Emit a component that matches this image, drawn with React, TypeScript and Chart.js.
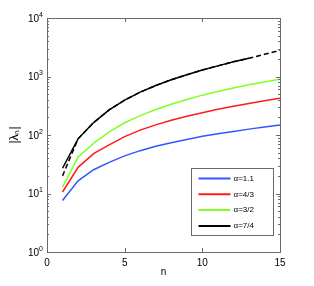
import React, { useEffect, useRef } from "react";
import { Chart, registerables } from "chart.js";

Chart.register(...registerables);

const nValues = [1, 2, 3, 4, 5, 6, 7, 8, 9, 10, 11, 12, 13, 14, 15];
const lambdaAlpha11 = [7.6, 16.5, 25.5, 34, 44, 54, 64, 74, 84, 95, 105, 115, 126, 137, 148];
const lambdaAlpha43 = [10.6, 28, 48, 68, 94, 121, 149, 179, 210, 240, 275, 310, 346, 384, 423];
const lambdaAlpha32 = [12.8, 42, 72, 113, 162, 214, 272, 336, 405, 480, 555, 636, 720, 808, 900];
const lambdaAlpha74 = [27, 86, 163, 268, 395, 540, 700, 880, 1070, 1290, 1520, 1780, 2050, null, null];
const lambdaAlpha74Asym = [20, 86, 163, 268, 395, 540, 700, 880, 1070, 1290, 1520, 1780, 2050, 2400, 2800];
const seriesLabels = ["α=1.1", "α=4/3", "α=3/2", "α=7/4"];
const seriesColors = ["#3355ff", "#ff1a1a", "#80ff26", "#000000"];
const xTickValues = [0, 5, 10, 15];
const yDecades = [1, 10, 100, 1000, 10000];

const FONT = "Liberation Sans, Arial, Helvetica, sans-serif";

const toPoints = (ys: (number | null)[]) =>
  nValues.map((n, i) => ({ x: n, y: ys[i] }));

const framePlugin = {
  id: "matlabFrame",
  afterDatasetsDraw(chart: any) {
    const { ctx, chartArea: a, scales } = chart;
    const xs = scales.x;
    const ys = scales.y;
    ctx.save();
    ctx.strokeStyle = "#6a6a6a";
    ctx.lineWidth = 1;
    ctx.strokeRect(Math.round(a.left) + 0.5, Math.round(a.top) + 0.5, Math.round(a.width), Math.round(a.height));
    ctx.beginPath();
    for (const v of xTickValues) {
      const px = Math.round(xs.getPixelForValue(v)) + 0.5;
      ctx.moveTo(px, a.bottom);
      ctx.lineTo(px, a.bottom - 4);
      ctx.moveTo(px, a.top);
      ctx.lineTo(px, a.top + 4);
    }
    for (let d = 0; d < yDecades.length - 1; d++) {
      for (let m = 1; m < 10; m++) {
        const v = yDecades[d] * m;
        const py = Math.round(ys.getPixelForValue(v)) + 0.5;
        const len = m === 1 ? 4 : 2;
        ctx.moveTo(a.left, py);
        ctx.lineTo(a.left + len, py);
        ctx.moveTo(a.right, py);
        ctx.lineTo(a.right - len, py);
      }
    }
    ctx.stroke();

    // y tick labels 10^k
    ctx.fillStyle = "#000";
    ctx.textBaseline = "alphabetic";
    yDecades.forEach((v, k) => {
      const py = ys.getPixelForValue(v);
      ctx.font = `7px ${FONT}`;
      const ew = ctx.measureText(String(k)).width;
      ctx.font = `10px ${FONT}`;
      const bw = ctx.measureText("10").width;
      const right = a.left - 4;
      ctx.textAlign = "left";
      ctx.fillText("10", right - ew - bw, py + 3.5);
      ctx.font = `7px ${FONT}`;
      ctx.fillText(String(k), right - ew, py - 1.5);
    });

    // legend
    const bx = Math.round(a.right - 89) + 0.5;
    const by = Math.round(a.top + 150) + 0.5;
    const bw = 82;
    const bh = 67;
    ctx.fillStyle = "#fff";
    ctx.fillRect(bx, by, bw, bh);
    ctx.strokeStyle = "#6a6a6a";
    ctx.strokeRect(bx, by, bw, bh);
    ctx.font = `8px ${FONT}`;
    ctx.textAlign = "left";
    ctx.textBaseline = "middle";
    chart.data.datasets.slice(0, 4).forEach((ds: any, i: number) => {
      const yy = by + 10 + i * 15.8;
      ctx.strokeStyle = ds.borderColor;
      ctx.lineWidth = 2;
      ctx.beginPath();
      ctx.moveTo(bx + 7, yy);
      ctx.lineTo(bx + 39, yy);
      ctx.stroke();
      ctx.fillStyle = "#000";
      ctx.fillText(ds.label, bx + 42, yy);
    });
    ctx.restore();
  },
};

export default function App() {
  const canvasRef = useRef<HTMLCanvasElement | null>(null);

  useEffect(() => {
    if (!canvasRef.current) return;
    const datasets: any[] = [
      { label: seriesLabels[0], data: toPoints(lambdaAlpha11), borderColor: seriesColors[0] },
      { label: seriesLabels[1], data: toPoints(lambdaAlpha43), borderColor: seriesColors[1] },
      { label: seriesLabels[2], data: toPoints(lambdaAlpha32), borderColor: seriesColors[2] },
      { label: seriesLabels[3], data: toPoints(lambdaAlpha74), borderColor: seriesColors[3] },
      { label: "asymptotic", data: toPoints(lambdaAlpha74Asym), borderColor: seriesColors[3], borderDash: [5, 3] },
    ].map((d) => ({
      ...d,
      borderWidth: 1.5,
      pointRadius: 0,
      fill: false,
      tension: 0,
      spanGaps: false,
    }));

    const chart = new Chart(canvasRef.current, {
      type: "line",
      data: { datasets },
      options: {
        animation: false,
        responsive: false,
        layout: { padding: { top: 18, right: 34, left: 0, bottom: 0 } },
        plugins: { legend: { display: false }, tooltip: { enabled: false } },
        scales: {
          x: {
            type: "linear",
            min: 0,
            max: 15,
            grid: { display: false, drawTicks: false },
            border: { display: false },
            afterBuildTicks: (s: any) => {
              s.ticks = xTickValues.map((v) => ({ value: v }));
            },
            afterFit: (s: any) => {
              s.height = 34;
            },
            ticks: {
              color: "#000",
              font: { family: FONT, size: 10 },
              padding: 5,
              maxRotation: 0,
              autoSkip: false,
            },
            title: {
              display: true,
              text: "n",
              color: "#000",
              font: { family: FONT, size: 10 },
              padding: { top: 0, bottom: 8 },
            },
          },
          y: {
            type: "logarithmic",
            min: 1,
            max: 10000,
            grid: { display: false, drawTicks: false },
            border: { display: false },
            ticks: { display: false },
            afterFit: (s: any) => {
              s.width = 47;
            },
            title: {
              display: true,
              text: "|λₙ|",
              color: "#000",
              font: { family: FONT, size: 12 },
              padding: { top: 7, bottom: 0 },
            },
          },
        },
      },
      plugins: [framePlugin],
    });
    return () => chart.destroy();
  }, []);

  return (
    <div style={{ position: "fixed", left: 0, top: 0, width: 314, height: 286, background: "#fff" }}>
      <canvas ref={canvasRef} width={314} height={286} />
    </div>
  );
}
